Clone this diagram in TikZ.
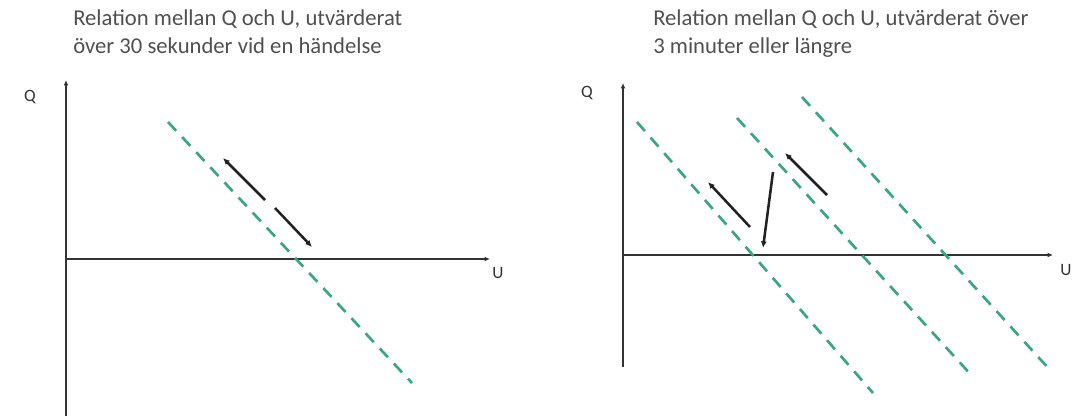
\documentclass[tikz,border=0pt]{standalone}
\usepackage{fontspec}
\setmainfont{Carlito}
\usepackage{xcolor}
\usepackage{tikz}
\usetikzlibrary{arrows.meta,positioning}
\definecolor{ink}{HTML}{222222}
\definecolor{axisgray}{HTML}{333333}
\definecolor{textgray}{HTML}{505050}
\definecolor{trendgreen}{HTML}{3AA585}
\tikzset{axisline/.style={-{Latex[length=4pt,width=3.5pt]},draw=axisgray,line width=1.8pt},trend/.style={draw=trendgreen,line width=2pt,dash pattern=on 9pt off 6.5pt},move/.style={-{Latex[length=5pt,width=4.5pt]},draw=ink,line width=1.9pt},heading/.style={text=textgray,font=\fontsize{17}{21}\selectfont,align=left,anchor=north west,inner sep=0pt},axlabel/.style={text=axisgray,font=\fontsize{13}{15}\selectfont,inner sep=0pt}}

\begin{document}
\begin{tikzpicture}[x=0.75pt,y=-0.75pt]
\useasboundingbox (0,0) rectangle (1073,416);
\node[heading] (ta) at (73,9) {Relation mellan Q och U, utvärderat\\över 30 sekunder vid en händelse};
\coordinate (oa) at (66,259);\coordinate (qa) at (66,80);\coordinate (ba) at (66,416);\coordinate (ua) at (490,259);
\draw[axisline] (ba)--(qa);\draw[axisline] (oa)--(ua);
\node[axlabel] (qla) at (30,97) {Q};
\node[axlabel] (ula) at (498,273) {U};
\coordinate (ga1) at (168,122);\coordinate (ga2) at (412,383);
\draw[trend] (ga1)--(ga2);
\coordinate (ma1) at (265,200);\coordinate (ma2) at (223,158);\coordinate (mb1) at (275,208);\coordinate (mb2) at (312,247);
\draw[move] (ma1)--(ma2);\draw[move] (mb1)--(mb2);
\node[heading] (tb) at (653,9) {Relation mellan Q och U, utvärderat över\\3 minuter eller längre};
\coordinate (ob) at (623,255);\coordinate (qb) at (623,83);\coordinate (bb) at (623,367);\coordinate (ub) at (1053,255);
\draw[axisline] (bb)--(qb);\draw[axisline] (ob)--(ub);
\node[axlabel] (qlb) at (587,93) {Q};
\node[axlabel] (ulb) at (1066,270) {U};
\coordinate (gb1) at (637,122);\coordinate (gb2) at (873,393);
\coordinate (gc1) at (737,118);\coordinate (gc2) at (973,377);
\coordinate (gd1) at (802,97);\coordinate (gd2) at (1050,370);
\draw[trend] (gb1)--(gb2);\draw[trend] (gc1)--(gc2);\draw[trend] (gd1)--(gd2);
\coordinate (mc1) at (750,227);\coordinate (mc2) at (708,182);
\coordinate (md1) at (773,172);\coordinate (md2) at (763,248);
\coordinate (me1) at (827,195);\coordinate (me2) at (785,153);
\draw[move] (mc1)--(mc2);\draw[move] (md1)--(md2);\draw[move] (me1)--(me2);
\end{tikzpicture}
\end{document}
